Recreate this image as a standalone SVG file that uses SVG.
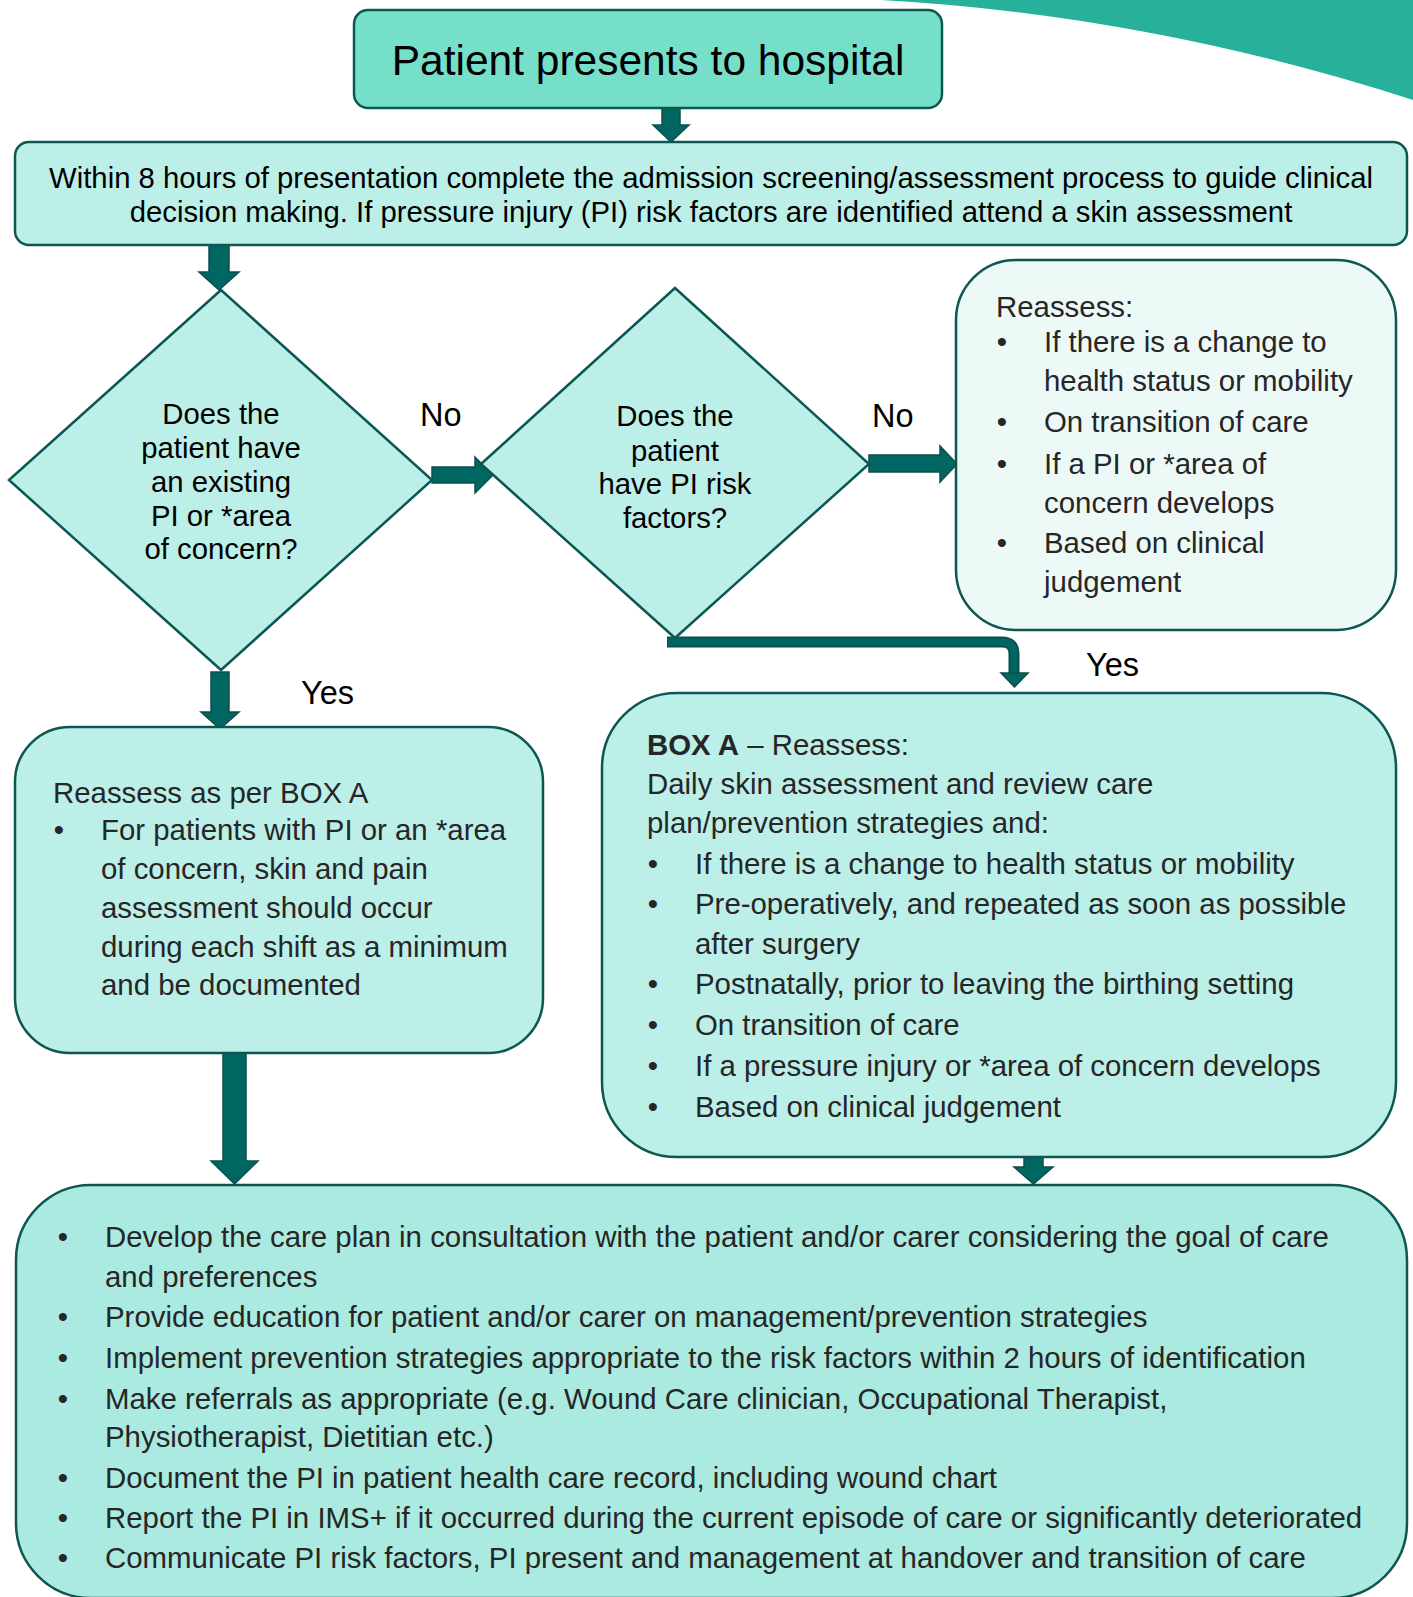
<svg xmlns="http://www.w3.org/2000/svg" width="1413" height="1597" viewBox="0 0 1413 1597">
<style>
text{font-family:"Liberation Sans",Arial,sans-serif;}
.box{stroke:#0d5753;stroke-width:2.5;}
.b2{fill:#bcefe8;}
.t{font-size:29.4px;fill:#262626;}
.tk{font-size:29.3px;fill:#000;}
.lbl{font-size:32.5px;fill:#000;}
.c{text-anchor:middle;}
.arr{fill:#006661;stroke:#0b4f4c;stroke-width:1.5;stroke-linejoin:miter;}
</style>
<path id="swoosh" d="M881 0 H1413 V100 Q1150 15 881 0 Z" fill="#27b09a"/>
<g id="connectors">
<polygon class="arr" points="662,107 680,107 680,125 689,125 671,142 653,125 662,125"/>
<polygon class="arr" points="209,244 229,244 229,272 239,272 219,290 199,272 209,272"/>
<polygon class="arr" points="432,467 475,467 475,457 493,475 475,493 475,483 432,483"/>
<polygon class="arr" points="869,455 940,455 940,446 957,464 940,482 940,472 869,472"/>
<polygon class="arr" points="211,672 229,672 229,712 239,712 220,729 201,712 211,712"/>
<path d="M667 642 H1002 Q1014 642 1014 654 V674" fill="none" stroke="#0b4f4c" stroke-width="11"/>
<path d="M668 642 H1002 Q1014 642 1014 654 V674" fill="none" stroke="#006661" stroke-width="7.5"/>
<polygon class="arr" points="1001,673 1028,673 1014.5,687"/>
<polygon class="arr" points="223,1053 246,1053 246,1161 258,1161 234.5,1184 211,1161 223,1161"/>
<polygon class="arr" points="1024,1150 1043,1150 1043,1167 1053,1167 1033.5,1184 1014,1167 1024,1167"/>
</g>
<g id="title">
<rect class="box" x="354" y="10" width="588" height="98" rx="14" fill="#76dfca"/>
<text x="648" y="75" class="c" style="font-size:42.5px" fill="#000">Patient presents to hospital</text>
</g>
<g id="screening">
<rect class="box b2" x="15" y="142" width="1392" height="103" rx="14"/>
<text x="711" y="188" class="c tk">Within 8 hours of presentation complete the admission screening/assessment process to guide clinical</text>
<text x="711" y="222" class="c tk">decision making. If pressure injury (PI) risk factors are identified attend a skin assessment</text>
</g>
<g id="decision1">
<polygon class="box b2" points="221,290 432,480 221,670 9,480"/>
<text class="c tk" x="221" y="424">Does the</text>
<text class="c tk" x="221" y="458">patient have</text>
<text class="c tk" x="221" y="492">an existing</text>
<text class="c tk" x="221" y="526">PI or *area</text>
<text class="c tk" x="221" y="559">of concern?</text>
</g>
<g id="decision2">
<polygon class="box b2" points="675,288 869,464 675,638 481,464"/>
<text class="c tk" x="675" y="426">Does the</text>
<text class="c tk" x="675" y="461">patient</text>
<text class="c tk" x="675" y="494">have PI risk</text>
<text class="c tk" x="675" y="528">factors?</text>
</g>
<g id="labels">
<text class="lbl" x="420" y="426">No</text>
<text class="lbl" x="872" y="427">No</text>
<text class="lbl" x="301" y="704">Yes</text>
<text class="lbl" x="1086" y="676">Yes</text>
</g>
<g id="reassess">
<rect class="box" x="956" y="260" width="440" height="370" rx="60" fill="#edf9f7"/>
<text class="t" x="996" y="317">Reassess:</text>
<text class="t c" x="1002" y="352">•</text>
<text class="t" x="1044" y="352">If there is a change to</text>
<text class="t" x="1044" y="391">health status or mobility</text>
<text class="t c" x="1002" y="432">•</text>
<text class="t" x="1044" y="432">On transition of care</text>
<text class="t c" x="1002" y="474">•</text>
<text class="t" x="1044" y="474">If a PI or *area of</text>
<text class="t" x="1044" y="513">concern develops</text>
<text class="t c" x="1002" y="553">•</text>
<text class="t" x="1044" y="553">Based on clinical</text>
<text class="t" x="1044" y="592">judgement</text>
</g>
<g id="existing-pi">
<rect class="box b2" x="15" y="727" width="528" height="326" rx="55"/>
<text class="t" x="53" y="803">Reassess as per BOX A</text>
<text class="t c" x="59" y="840">•</text>
<text class="t" x="101" y="840">For patients with PI or an *area</text>
<text class="t" x="101" y="879">of concern, skin and pain</text>
<text class="t" x="101" y="918">assessment should occur</text>
<text class="t" x="101" y="957">during each shift as a minimum</text>
<text class="t" x="101" y="995">and be documented</text>
</g>
<g id="box-a">
<rect class="box b2" x="602" y="693" width="794" height="464" rx="75"/>
<text class="t" x="647" y="755"><tspan font-weight="bold">BOX A</tspan> – Reassess:</text>
<text class="t" x="647" y="794">Daily skin assessment and review care</text>
<text class="t" x="647" y="833">plan/prevention strategies and:</text>
<text class="t c" x="653" y="874">•</text>
<text class="t" x="695" y="874">If there is a change to health status or mobility</text>
<text class="t c" x="653" y="914">•</text>
<text class="t" x="695" y="914">Pre-operatively, and repeated as soon as possible</text>
<text class="t" x="695" y="954">after surgery</text>
<text class="t c" x="653" y="994">•</text>
<text class="t" x="695" y="994">Postnatally, prior to leaving the birthing setting</text>
<text class="t c" x="653" y="1035">•</text>
<text class="t" x="695" y="1035">On transition of care</text>
<text class="t c" x="653" y="1076">•</text>
<text class="t" x="695" y="1076">If a pressure injury or *area of concern develops</text>
<text class="t c" x="653" y="1117">•</text>
<text class="t" x="695" y="1117">Based on clinical judgement</text>
</g>
<g id="care-plan">
<rect class="box" x="16" y="1185" width="1391" height="413" rx="75" fill="#abeae0"/>
<text class="t c" x="63" y="1247">•</text>
<text class="t" x="105" y="1247">Develop the care plan in consultation with the patient and/or carer considering the goal of care</text>
<text class="t" x="105" y="1287">and preferences</text>
<text class="t c" x="63" y="1327">•</text>
<text class="t" x="105" y="1327">Provide education for patient and/or carer on management/prevention strategies</text>
<text class="t c" x="63" y="1368">•</text>
<text class="t" x="105" y="1368">Implement prevention strategies appropriate to the risk factors within 2 hours of identification</text>
<text class="t c" x="63" y="1409">•</text>
<text class="t" x="105" y="1409">Make referrals as appropriate (e.g. Wound Care clinician, Occupational Therapist,</text>
<text class="t" x="105" y="1447">Physiotherapist, Dietitian etc.)</text>
<text class="t c" x="63" y="1488">•</text>
<text class="t" x="105" y="1488">Document the PI in patient health care record, including wound chart</text>
<text class="t c" x="63" y="1528">•</text>
<text class="t" x="105" y="1528">Report the PI in IMS+ if it occurred during the current episode of care or significantly deteriorated</text>
<text class="t c" x="63" y="1568">•</text>
<text class="t" x="105" y="1568">Communicate PI risk factors, PI present and management at handover and transition of care</text>
</g>
</svg>
